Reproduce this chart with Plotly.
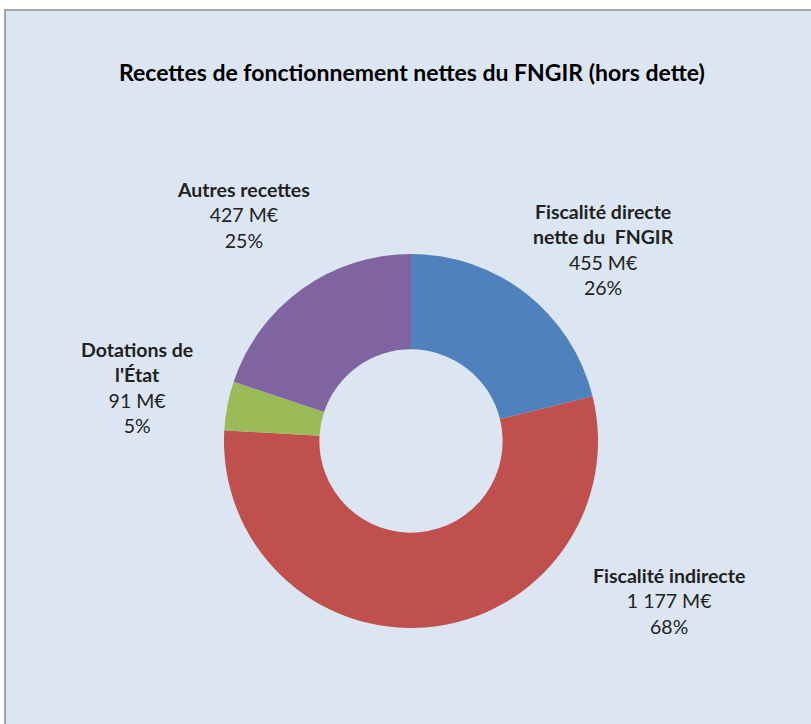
import plotly.graph_objects as go

# Données du graphique
categories = ["Fiscalité directe<br>nette du  FNGIR", "Fiscalité indirecte",
              "Dotations de<br>l'État", "Autres recettes"]
valeurs = [455, 1177, 91, 427]
montants = ["455 M€", "1 177 M€", "91 M€", "427 M€"]
pourcentages = ["26%", "68%", "5%", "25%"]
couleurs = ["#4F81BD", "#C0504D", "#9BBB59", "#8064A2"]

W, H = 811, 724
FONT = "Lato"

fig = go.Figure()
fig.add_trace(
    go.Pie(
        labels=categories,
        values=valeurs,
        hole=0.49,
        sort=False,
        direction="clockwise",
        rotation=0,
        marker=dict(colors=couleurs, line=dict(width=0)),
        textinfo="none",
        hoverinfo="label+value",
        showlegend=False,
        domain=dict(x=[224 / W, 598 / W], y=[96 / H, 470 / H]),
    )
)

# positions des étiquettes (centre, en pixels depuis le haut-gauche)
positions = [(603, 249), (669, 601), (137, 387), (244, 215)]
for cat, m, p, (px, py) in zip(categories, montants, pourcentages, positions):
    fig.add_annotation(
        x=px / W, y=1 - py / H, xref="paper", yref="paper",
        xanchor="center", yanchor="middle",
        text=f"<b>{cat}</b><br>{m}<br>{p}",
        showarrow=False, align="center",
        font=dict(family=FONT, size=19.5, color="#222222"),
    )

fig.add_annotation(
    x=412 / W, y=1 - 72 / H, xref="paper", yref="paper",
    xanchor="center", yanchor="middle",
    text="<b>Recettes de fonctionnement nettes du FNGIR (hors dette)</b>",
    showarrow=False, font=dict(family=FONT, size=23, color="#000000"),
)

fig.add_shape(
    type="rect", xref="paper", yref="paper", layer="below",
    x0=5 / W, x1=1.02, y0=-0.02, y1=1 - 10 / H,
    fillcolor="#DCE6F2", line=dict(color="#8C8C8C", width=1.5),
)

fig.update_layout(
    width=W, height=H,
    margin=dict(l=0, r=0, t=0, b=0),
    paper_bgcolor="white",
    plot_bgcolor="white",
)

fig.write_html(
    "out.html",
    config={"displayModeBar": False},
    post_script="document.body.style.margin='0';",
)
